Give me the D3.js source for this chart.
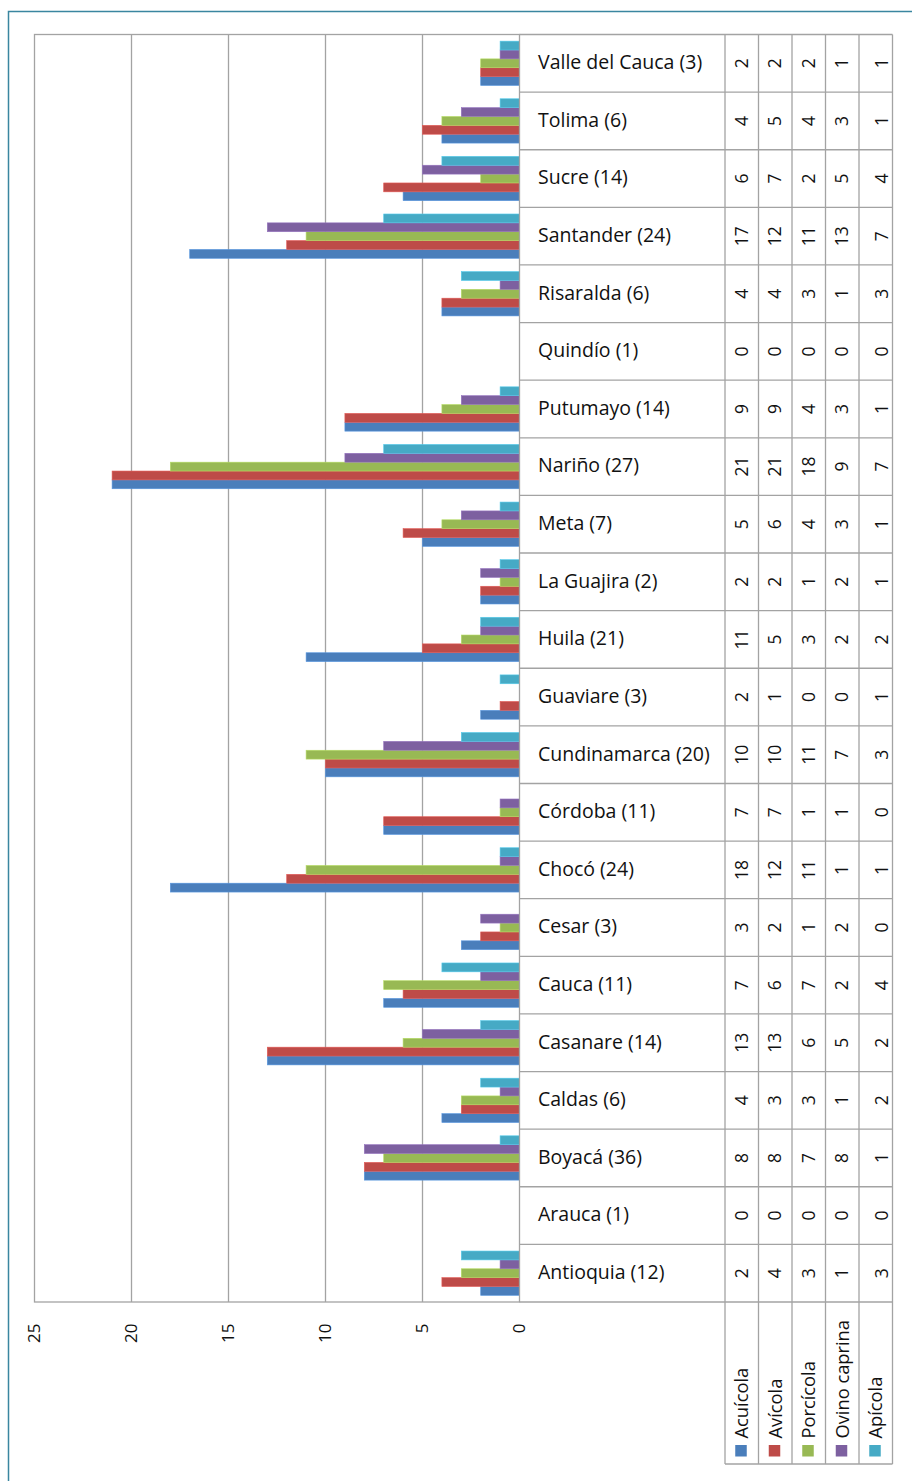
<!DOCTYPE html>
<html>
<head>
<meta charset="utf-8">
<script src="https://cdn.jsdelivr.net/npm/d3@7"></script>
<style>
  html, body { margin: 0; padding: 0; background: #fff; }
  svg { display: block; font-family: "Open Sans", sans-serif; }
</style>
</head>
<body>
<svg id="chart" width="912" height="1481"></svg>
<script>
const categories = ["Antioquia (12)", "Arauca (1)", "Boyacá (36)", "Caldas (6)", "Casanare (14)", "Cauca (11)", "Cesar (3)", "Chocó (24)", "Córdoba (11)", "Cundinamarca (20)", "Guaviare (3)", "Huila (21)", "La Guajira (2)", "Meta (7)", "Nariño (27)", "Putumayo (14)", "Quindío (1)", "Risaralda (6)", "Santander (24)", "Sucre (14)", "Tolima (6)", "Valle del Cauca (3)"];
const seriesNames = ["Acuícola", "Avícola", "Porcícola", "Ovino caprina", "Apícola"];
const acuicola = [2, 0, 8, 4, 13, 7, 3, 18, 7, 10, 2, 11, 2, 5, 21, 9, 0, 4, 17, 6, 4, 2];
const avicola = [4, 0, 8, 3, 13, 6, 2, 12, 7, 10, 1, 5, 2, 6, 21, 9, 0, 4, 12, 7, 5, 2];
const porcicola = [3, 0, 7, 3, 6, 7, 1, 11, 1, 11, 0, 3, 1, 4, 18, 4, 0, 3, 11, 2, 4, 2];
const ovinoCaprina = [1, 0, 8, 1, 5, 2, 2, 1, 1, 7, 0, 2, 2, 3, 9, 3, 0, 1, 13, 5, 3, 1];
const apicola = [3, 0, 1, 2, 2, 4, 0, 1, 0, 3, 1, 2, 1, 1, 7, 1, 0, 3, 7, 4, 1, 1];
const tickValues = [0, 5, 10, 15, 20, 25];
const colors = ["#4a7ebb", "#be4b48", "#98b954", "#7d60a0", "#46aac5"];

const seriesValues = [acuicola, avicola, porcicola, ovinoCaprina, apicola];

const svg = d3.select("#chart");

// outer chart border
svg.append("rect")
  .attr("x", 8.5).attr("y", 11.5).attr("width", 1000).attr("height", 1600)
  .attr("fill", "none").attr("stroke", "#3a86a0").attr("stroke-width", 1.5);

const plotL = 34.5, plotR = 519.5, plotT = 34.5, plotB = 1302;
const colEdges = [725, 758.5, 792, 825.5, 859, 892.5];
const colShift = [0, 0, 0, 0, 6];
const legendB = 1464;
const gridColor = "#a3a3a3";

const x = d3.scaleLinear().domain([0, 25]).range([plotR, plotL]);
const y = d3.scaleBand().domain(categories.slice().reverse()).range([plotT, plotB]).paddingInner(0).paddingOuter(0);
// Excel-like gap width 150%: cluster = 5/6.5 of the band
const barH = y.bandwidth() / 6.5;
const clusterOff = (y.bandwidth() - 5 * barH) / 2;
const inner = d3.scaleBand().domain(d3.range(5).reverse())
  .range([clusterOff, clusterOff + 5 * barH]).padding(0);

// gridlines
const grid = svg.append("g");
grid.selectAll("line").data(tickValues.filter(v => v > 0 && v < 25)).join("line")
  .attr("x1", d => x(d)).attr("x2", d => x(d))
  .attr("y1", plotT).attr("y2", plotB)
  .attr("stroke", gridColor).attr("stroke-width", 1.3);

// bars
const barsG = svg.append("g");
categories.forEach((cat, ci) => {
  seriesValues.forEach((vals, si) => {
    const v = vals[ci];
    if (v <= 0) return;
    barsG.append("rect")
      .attr("x", x(v))
      .attr("y", y(cat) + inner(si))
      .attr("width", x(0) - x(v))
      .attr("height", inner.bandwidth())
      .attr("fill", colors[si])
      .attr("stroke", d3.color(colors[si]).brighter(0.5))
      .attr("stroke-width", 0.6);
  });
});

// plot border
svg.append("rect")
  .attr("x", plotL).attr("y", plotT).attr("width", plotR - plotL).attr("height", plotB - plotT)
  .attr("fill", "none").attr("stroke", gridColor).attr("stroke-width", 1.3);

// axis tick labels (rotated)
svg.append("g").selectAll("text").data(tickValues).join("text")
  .attr("transform", d => `translate(${x(d)},1323.5) rotate(-90)`)
  .attr("text-anchor", "end").attr("dy", "0.35em")
  .attr("font-size", 17).attr("fill", "#111")
  .text(d => d);

// data table
const table = svg.append("g");
const rowEdges = categories.map(c => y(c)).concat([plotB]);
table.selectAll("line.row").data(rowEdges).join("line")
  .attr("class", "row")
  .attr("x1", plotR).attr("x2", colEdges[colEdges.length - 1])
  .attr("y1", d => d).attr("y2", d => d)
  .attr("stroke", gridColor).attr("stroke-width", 1.3);
table.selectAll("line.col").data(colEdges).join("line")
  .attr("class", "col")
  .attr("x1", d => d).attr("x2", d => d)
  .attr("y1", plotT).attr("y2", legendB)
  .attr("stroke", gridColor).attr("stroke-width", 1.3);
table.append("line")
  .attr("x1", colEdges[0]).attr("x2", colEdges[colEdges.length - 1])
  .attr("y1", legendB).attr("y2", legendB)
  .attr("stroke", gridColor).attr("stroke-width", 1.3);

// category labels
table.selectAll("text.cat").data(categories).join("text")
  .attr("class", "cat")
  .attr("x", 538)
  .attr("y", d => y(d) + y.bandwidth() / 2)
  .attr("dy", "0.3em")
  .attr("font-size", 19.5).attr("fill", "#111")
  .text(d => d);

// values (rotated)
seriesValues.forEach((vals, si) => {
  const cx = (colEdges[si] + colEdges[si + 1]) / 2 + colShift[si];
  table.append("g").selectAll("text").data(categories).join("text")
    .attr("transform", (d) => `translate(${cx},${y(d) + y.bandwidth() / 2}) rotate(-90)`)
    .attr("text-anchor", "middle").attr("dy", "0.35em")
    .attr("font-size", 17.5).attr("fill", "#111")
    .text((d, i) => vals[i]);
});

// legend inside the table
seriesNames.forEach((name, si) => {
  const cx = (colEdges[si] + colEdges[si + 1]) / 2;
  svg.append("rect")
    .attr("x", cx - 6.5).attr("y", 1445).attr("width", 11.5).attr("height", 11.5)
    .attr("fill", colors[si]);
  svg.append("text")
    .attr("transform", `translate(${cx},1438.5) rotate(-90)`)
    .attr("text-anchor", "start").attr("dy", "0.35em")
    .attr("font-size", 18.3).attr("fill", "#111")
    .text(name);
});
</script>
</body>
</html>
